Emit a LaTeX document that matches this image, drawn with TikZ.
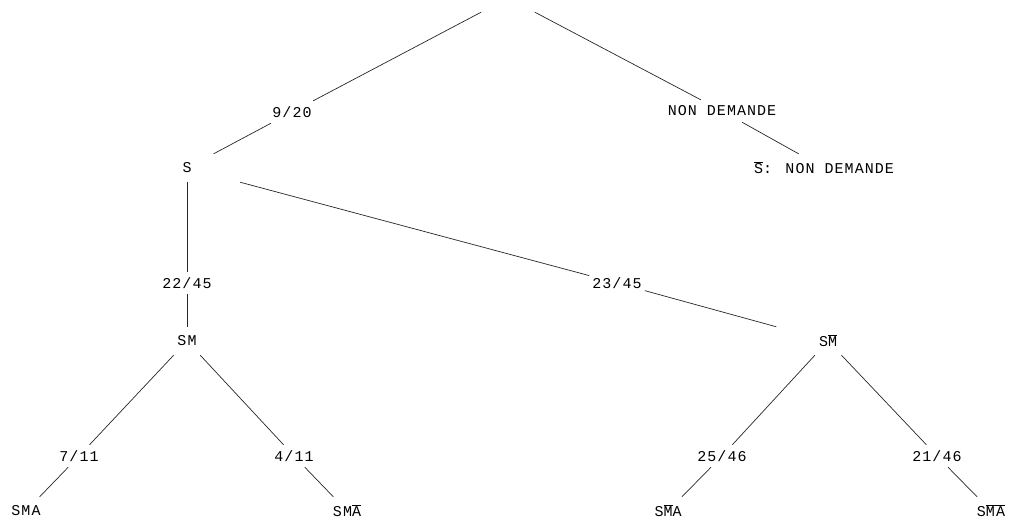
\documentclass[tikz,border=0pt]{standalone}
\usepackage{fontspec}
\setmainfont{Liberation Mono}[LetterSpace=7]
\usetikzlibrary{positioning}
\tikzstyle{State} = [minimum width=110pt, minimum height=28pt, inner sep=0pt]
\tikzstyle{Prob} = [minimum height=22pt, inner xsep=3pt, inner ysep=0pt]
\tikzstyle{Edge} = [line width=0.7pt, black!85]
\newcommand{\ovl}[1]{$\overline{\mbox{#1}}$}

\begin{document}
\begin{tikzpicture}[x=1pt, y=-1pt, font=\fontsize{15}{18}\selectfont]
    \useasboundingbox (0,0) rectangle (1010,525);
    % top level
    \node [State] (root) at (508,-2) {};
    \node [Prob] (p920) at (292,112) {9/20};
    \node [Prob] (pnon) at (722,111) {NON DEMANDE};
    \node [State] (S) at (187,168) {S};
    \node [State] (Sb) at (824,168) {\ovl{S}: NON DEMANDE};
    % second level
    \node [Prob] (p2245) at (187,283) {22/45};
    \node [Prob] (p2345) at (617,283) {23/45};
    \node [State] (SM) at (187,341) {SM};
    \node [State] (SMb) at (828,341) {S\ovl{M}};
    % leaves
    \node [Prob] (p711) at (79,456) {7/11};
    \node [Prob] (p411) at (294,456) {4/11};
    \node [Prob] (p2546) at (722,456) {25/46};
    \node [Prob] (p2146) at (937,456) {21/46};
    \node [State] (SMA) at (26,511) {SMA};
    \node [State] (SMAb) at (347,511) {SM\ovl{A}};
    \node [State] (SMbA) at (668,511) {S\ovl{M}A};
    \node [State] (SMbAb) at (991,511) {S\ovl{MA}};

    \draw[Edge] (root) -- (p920) -- (S);
    \draw[Edge] (root) -- (pnon) -- (Sb);
    \draw[Edge] (S) -- (p2245) -- (SM);
    \draw[Edge] (S) -- (p2345) -- (SMb);
    \draw[Edge] (SM) -- (p711) -- (SMA);
    \draw[Edge] (SM) -- (p411) -- (SMAb);
    \draw[Edge] (SMb) -- (p2546) -- (SMbA);
    \draw[Edge] (SMb) -- (p2146) -- (SMbAb);
\end{tikzpicture}
\end{document}
